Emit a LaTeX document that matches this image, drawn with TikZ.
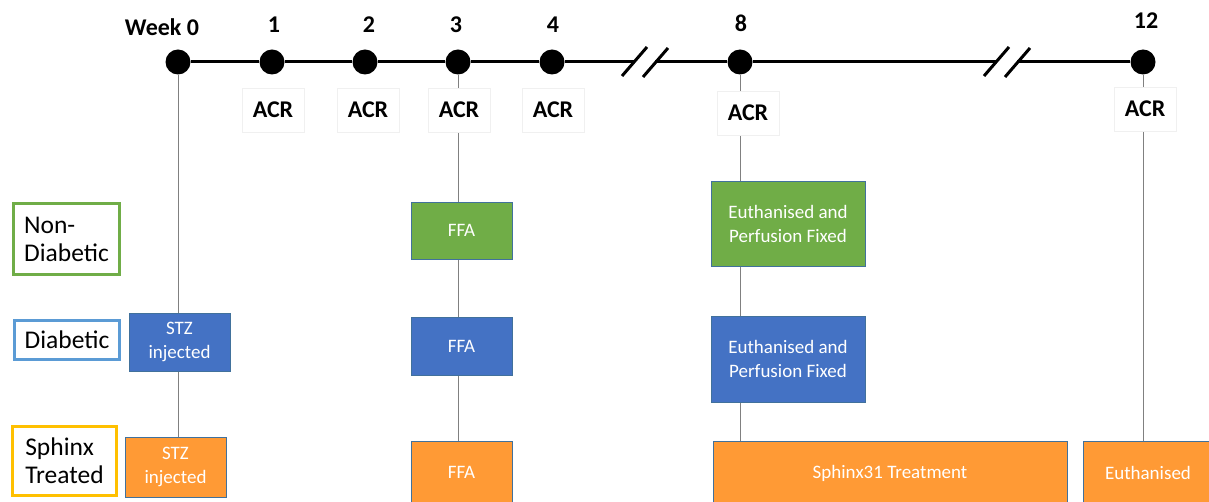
\documentclass[tikz,border=0pt]{standalone}
\usepackage{fontspec}
\setmainfont{Carlito}
\usepackage{tikz}
\usetikzlibrary{backgrounds}
\definecolor{ndgreen}{HTML}{70AD47}
\definecolor{dblue}{HTML}{4472C4}
\definecolor{sorange}{HTML}{FF9A35}
\definecolor{boxline}{HTML}{41719C}
\definecolor{ltblue}{HTML}{5B9BD5}
\definecolor{gold}{HTML}{FFC000}
\definecolor{vgray}{gray}{0.5}
\definecolor{acrline}{gray}{0.94}

\tikzset{
  dot/.style={circle,fill=black,minimum size=25pt,inner sep=0pt},
  wklabel/.style={font=\bfseries\fontsize{24}{28}\selectfont},
  acrbox/.style={draw=acrline,fill=white,minimum width=62pt,minimum height=44pt,
    font=\bfseries\fontsize{24}{28}\selectfont},
  grouplabel/.style={draw,fill=white,line width=3pt,align=left,inner sep=0pt,
    font=\fontsize{25.5}{28}\selectfont},
  stepbox/.style={draw=boxline,line width=0.8pt,text=white,align=center,
    inner sep=0pt,font=\fontsize{19}{24}\selectfont},
  tline/.style={line width=3pt},
  vline/.style={vgray,line width=1pt}
}

\begin{document}
\begin{tikzpicture}[x=1pt,y=1pt]
  \useasboundingbox (0,0) rectangle (1209,501);

  % timeline dots
  \node[dot] (w0) at (178,439) {};
  \node[dot] (w1) at (272,439) {};
  \node[dot] (w2) at (365,439) {};
  \node[dot] (w3) at (458,439) {};
  \node[dot] (w4) at (552,439) {};
  \node[dot] (w8) at (740,439) {};
  \node[dot] (w12) at (1143,439) {};

  \coordinate (brk1a) at (634,439);
  \coordinate (brk1b) at (655,439);
  \coordinate (brk2a) at (996,439);
  \coordinate (brk2b) at (1017,439);

  % week labels
  \node[wklabel] (lw0) at (162,474) {Week 0};
  \node[wklabel] (lw1) at (274,476) {1};
  \node[wklabel] (lw2) at (369,476) {2};
  \node[wklabel] (lw3) at (456,476) {3};
  \node[wklabel] (lw4) at (553,476) {4};
  \node[wklabel] (lw8) at (741,478) {8};
  \node[wklabel] (lw12) at (1146,480) {12};

  % ACR measurements
  \node[acrbox] (acr1) at (273,391) {ACR};
  \node[acrbox] (acr2) at (368,391) {ACR};
  \node[acrbox] (acr3) at (459,391) {ACR};
  \node[acrbox] (acr4) at (553,391) {ACR};
  \node[acrbox] (acr8) at (748,388) {ACR};
  \node[acrbox] (acr12) at (1145,392) {ACR};

  % groups
  \node[grouplabel,draw=ndgreen,minimum width=106pt,minimum height=71pt]
    (nondiab) at (66.5,262) {Non-\\Diabetic};
  \node[grouplabel,draw=ltblue,minimum width=105pt,minimum height=39pt]
    (diab) at (67,161) {Diabetic};
  \node[grouplabel,draw=gold,minimum width=104pt,minimum height=69pt]
    (sphtr) at (64.5,40) {Sphinx\\Treated};

  % week 0
  \node[stepbox,fill=dblue,minimum width=101pt,minimum height=58pt]
    (stzD) at (179.5,159) {STZ\\injected};
  \node[stepbox,fill=sorange,minimum width=101pt,minimum height=60pt]
    (stzS) at (175.5,34) {STZ\\injected};

  % week 3
  \node[stepbox,fill=ndgreen,minimum width=101pt,minimum height=57pt]
    (ffaN) at (461.5,270.5) {FFA};
  \node[stepbox,fill=dblue,minimum width=101pt,minimum height=58pt]
    (ffaD) at (461.5,155) {FFA};
  \node[stepbox,fill=sorange,minimum width=101pt,minimum height=62pt]
    (ffaS) at (461.5,29) {FFA};

  % week 8
  \node[stepbox,fill=ndgreen,minimum width=154pt,minimum height=85pt]
    (euN) at (788,277.5) {Euthanised and\\Perfusion Fixed};
  \node[stepbox,fill=dblue,minimum width=154pt,minimum height=86pt]
    (euD) at (788,142) {Euthanised and\\Perfusion Fixed};
  \node[stepbox,fill=sorange,minimum width=354pt,minimum height=64pt]
    (sphx) at (890,28) {Sphinx31 Treatment};

  % week 12
  \node[stepbox,fill=sorange,minimum width=130pt,minimum height=64pt]
    (eut) at (1148,28) {Euthanised};

  \begin{pgfonlayer}{background}
    \fill[white] (0,0) rectangle (1209,501);
    \draw[vline] (w0) -- (w0 |- stzS.north);
    \draw[vline] (w3) -- (w3 |- ffaS.north);
    \draw[vline] (w8) -- (w8 |- sphx.north);
    \draw[vline] (w12) -- (w12 |- eut.north);
  \end{pgfonlayer}

  \draw[tline] (w0) -- (w1) -- (w2) -- (w3) -- (w4) -- (brk1a);
  \draw[tline] (brk1b) -- (w8) -- (brk2a);
  \draw[tline] (brk2b) -- (w12);
  \draw[tline] (brk1a) ++(-12,-14) -- ++(25,29);
  \draw[tline] (brk1b) ++(-12,-15) -- ++(25,29);
  \draw[tline] (brk2a) ++(-12,-14) -- ++(25,29);
  \draw[tline] (brk2b) ++(-12,-15) -- ++(25,29);
\end{tikzpicture}
\end{document}
